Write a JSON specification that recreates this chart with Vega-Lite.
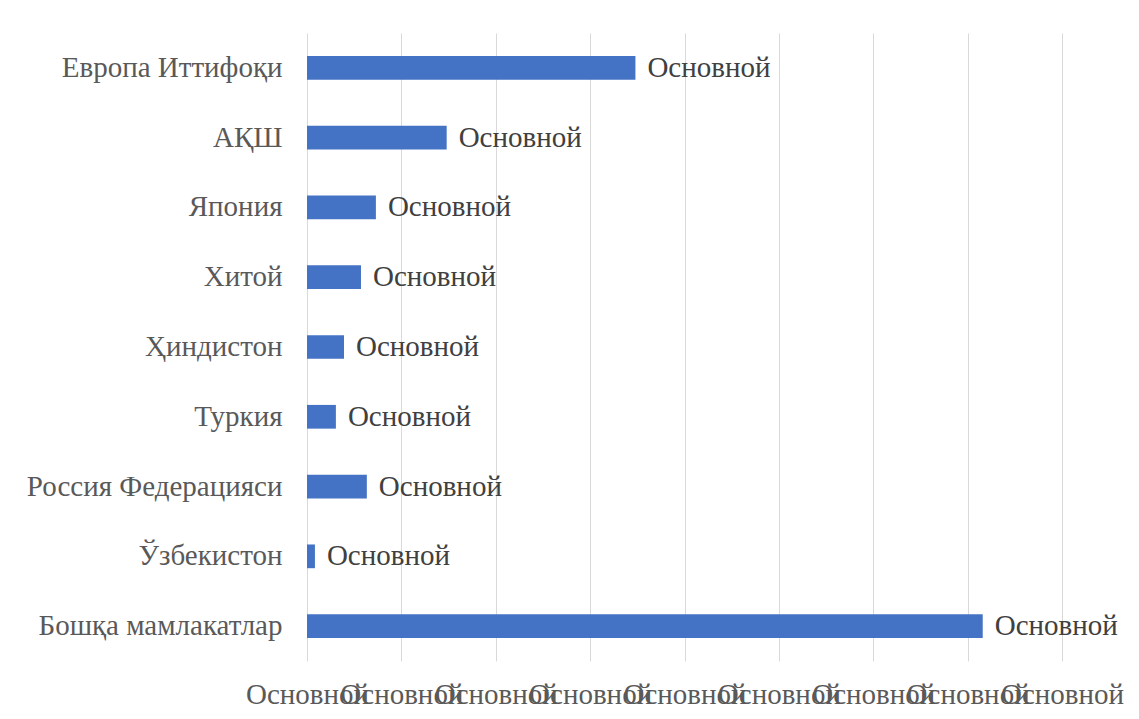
{
  "$schema": "https://vega.github.io/schema/vega-lite/v6.json",
  "autosize": {"type": "none"},
  "width": 755,
  "height": 628,
  "padding": {"left": 307, "top": 33, "right": 77, "bottom": 58},
  "background": "white",
  "config": {"view": {"stroke": null}, "font": "Liberation Serif"},
  "data": {
    "values": [
      {"country": "Европа Иттифоқи", "value": 17.4, "label": "Основной"},
      {"country": "АҚШ", "value": 7.4, "label": "Основной"},
      {"country": "Япония", "value": 3.65, "label": "Основной"},
      {"country": "Хитой", "value": 2.86, "label": "Основной"},
      {"country": "Ҳиндистон", "value": 1.96, "label": "Основной"},
      {"country": "Туркия", "value": 1.53, "label": "Основной"},
      {"country": "Россия Федерацияси", "value": 3.17, "label": "Основной"},
      {"country": "Ўзбекистон", "value": 0.42, "label": "Основной"},
      {"country": "Бошқа мамлакатлар", "value": 35.8, "label": "Основной"}
    ]
  },
  "encoding": {
    "y": {
      "field": "country",
      "type": "nominal",
      "sort": null,
      "scale": {"paddingInner": 0.66, "paddingOuter": 0.33},
      "axis": {
        "title": null,
        "ticks": false,
        "domain": false,
        "labelPadding": 25,
        "labelFont": "Liberation Serif",
        "labelFontSize": 29,
        "labelColor": "#595959",
        "labelLimit": 400
      }
    },
    "x": {
      "field": "value",
      "type": "quantitative",
      "scale": {"domain": [0, 40], "nice": false},
      "axis": {
        "title": null,
        "values": [0, 5, 10, 15, 20, 25, 30, 35, 40],
        "labelExpr": "'Основной'",
        "labelOverlap": false,
        "labelBound": false,
        "labelFlush": false,
        "grid": true,
        "gridColor": "#d9d9d9",
        "gridWidth": 1,
        "domain": false,
        "ticks": false,
        "labelPadding": 19,
        "labelFont": "Liberation Serif",
        "labelFontSize": 29,
        "labelColor": "#595959"
      }
    }
  },
  "layer": [
    {"mark": {"type": "bar", "color": "#4472C4"}},
    {
      "mark": {
        "type": "text",
        "align": "left",
        "baseline": "middle",
        "dx": 12,
        "font": "Liberation Serif",
        "fontSize": 29,
        "color": "#404040"
      },
      "encoding": {"text": {"field": "label"}}
    }
  ]
}
